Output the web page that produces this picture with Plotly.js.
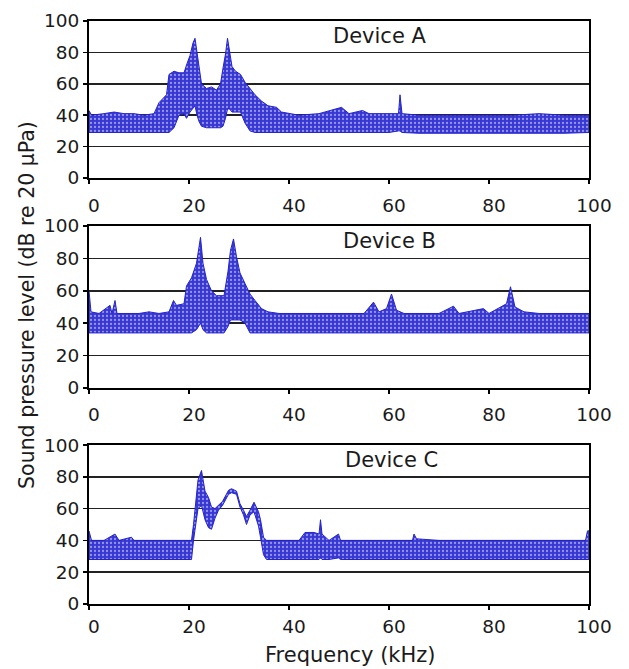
<!DOCTYPE html>
<html>
<head>
<meta charset="utf-8">
<script src="https://cdn.plot.ly/plotly-3.0.1.min.js"></script>
<style>html,body{margin:0;padding:0;background:#fff;}#chart{width:629px;height:669px;}</style>
</head>
<body>
<div id="chart"></div>
<script>
// ---- Data ----
const deviceNames = ['Device A', 'Device B', 'Device C'];
const xTickVals = [0, 20, 40, 60, 80, 100];
const yTickVals = [0, 20, 40, 60, 80, 100];

// Device A: frequency (kHz), upper and lower envelope of the spectrum (dB)
const freqA  = [0, 0.5, 3, 5, 7, 9, 11, 13, 14, 15.5, 16, 17, 18, 19, 19.5, 20.2, 20.8, 21.2, 21.6, 22, 22.5, 23.5, 24.5, 25.5, 26.3, 26.8, 27.3, 27.7, 28.1, 28.6, 29.3, 30.3, 31.2, 32.2, 33.2, 34.5, 35.8, 37.5, 38.5, 42, 46, 50.5, 52, 54.7, 56, 60, 61.9, 62.2, 62.6, 66, 70, 75, 80, 85, 90, 95, 100];
const upperA = [43, 40, 41, 42, 41, 41, 40, 41, 48, 53, 66, 68, 67, 67, 72, 78, 86, 89, 80, 70, 60, 57, 58, 56, 60, 70, 79, 89, 80, 71, 68, 66, 61, 57, 53, 49, 46, 45, 42, 40, 41, 45, 41, 43, 41, 41, 41, 53, 41, 40, 40, 40, 40, 40, 41, 40, 40];
const lowerA = [29, 29, 29, 29, 29, 29, 29, 29, 29, 29, 29, 32, 40, 41, 38, 42, 44, 46, 40, 36, 33, 32, 32, 32, 32, 33, 38, 44, 44, 42, 42, 42, 35, 30, 29, 29, 29, 29, 29, 29, 29, 29, 29, 29, 29, 29, 30, 30, 29, 28.5, 28.5, 28.5, 28.5, 28.5, 28.5, 28.5, 29];

// Device B
const freqB  = [0, 0.4, 2, 4.2, 4.6, 5.2, 5.6, 8, 10, 12, 14, 16, 16.9, 17.5, 19, 19.5, 20.5, 21.5, 22.3, 22.8, 23.5, 24.5, 25.5, 27, 27.8, 28.3, 28.9, 29.5, 30.2, 31.2, 32.2, 33.2, 34.5, 35.8, 38, 45, 50, 55, 56.9, 58, 59.5, 60.5, 61.5, 63, 70, 72.9, 74, 78.9, 80, 83.5, 84.3, 85.2, 87, 90, 95, 100];
const upperB = [60, 47, 46, 51, 46, 54, 46, 46, 46, 47, 46, 47, 54, 51, 52, 63, 68, 77, 93, 77, 67, 60, 57, 57, 72, 85, 92, 81, 71, 64.5, 58, 54, 49, 47, 46, 46, 46, 46, 53, 47, 49, 58, 48, 46, 46, 50.5, 46, 49, 46, 52, 62.5, 50, 47, 46, 46, 46];
const lowerB = [34, 34, 34, 34, 34, 34, 34, 34, 34, 34, 34, 34, 34, 34, 34, 34, 34, 36, 40, 36, 34, 34, 34, 34, 38, 42, 42, 42, 42, 40, 34, 34, 34, 34, 34, 34, 34, 34, 34, 34, 34, 34, 34, 34, 34, 34, 34, 34, 34, 34, 34, 34, 34, 34, 34, 34];

// Device C
const freqC  = [0, 0.5, 3, 5.2, 6, 8.5, 9, 12, 15, 18, 20.5, 20.9, 21.3, 21.8, 22.5, 23.2, 23.9, 24.5, 25.2, 25.9, 26.7, 27.9, 28.5, 29.5, 30.2, 30.9, 31.5, 32.2, 33, 33.9, 34.3, 34.9, 35.5, 38, 42, 43.2, 45, 46, 46.3, 46.6, 48, 49.9, 50.3, 55, 60, 64.7, 65, 65.5, 70, 75, 80, 85, 90, 95, 99.3, 99.7, 100];
const upperC = [46, 40, 40, 44, 40, 42, 40, 40, 40, 40, 40, 50, 62, 78, 84, 71, 67, 61, 60, 62, 64.5, 71.5, 72.5, 71, 63, 59, 55, 59, 64, 58, 53, 42, 40, 40, 40, 45, 45, 44, 53, 44, 40, 44, 40, 40, 40, 40, 44, 41, 40, 40, 40, 40, 40, 40, 40, 46, 46];
const lowerC = [28, 28, 28, 28, 28, 28, 28, 28, 28, 28, 28, 40, 50, 60, 62, 53, 48, 47, 54, 59, 62, 69, 70, 69, 61, 56, 50, 56, 58, 49, 42, 31, 28, 28, 28, 28, 28, 28, 29, 28, 28, 29, 28, 28, 28, 28, 28, 28, 28, 28, 28, 28, 28, 28, 28, 28, 28];

const series = [
  {freq: freqA, upper: upperA, lower: lowerA},
  {freq: freqB, upper: upperB, lower: lowerB},
  {freq: freqC, upper: upperC, lower: lowerC}
];

// ---- Styling ----
const BLUE_LINE = 'rgb(35,35,205)';
const BLUE_FILL = 'rgb(55,55,212)';
const FONT = 'DejaVu Sans, Arial, sans-serif';
const TXT = '#1a1a1a';
const domains = [[0.7307, 1.0], [0.3705, 0.6484], [0.0, 0.2727]];
const titlePos = [[0.58, 0.904], [0.601, 0.907], [0.604, 0.906]];
const xStandoff = [6, 5, 1];

const traces = [];
series.forEach((s, i) => {
  const n = i === 0 ? '' : String(i + 1);
  traces.push({
    x: s.freq, y: s.lower, xaxis: 'x' + n, yaxis: 'y' + n,
    type: 'scatter', mode: 'lines', line: {color: BLUE_LINE, width: 1},
    hoverinfo: 'skip', showlegend: false
  });
  traces.push({
    x: s.freq, y: s.upper, xaxis: 'x' + n, yaxis: 'y' + n,
    type: 'scatter', mode: 'lines', line: {color: BLUE_LINE, width: 1},
    fill: 'tonexty', fillcolor: BLUE_FILL,
    fillpattern: {shape: '.', bgcolor: BLUE_FILL, fgcolor: 'rgb(150,150,240)', size: 4, solidity: 0.25},
    hoverinfo: 'skip', showlegend: false
  });
});

const layout = {
  width: 629, height: 669,
  margin: {l: 89, r: 40, t: 21, b: 65},
  paper_bgcolor: '#fff', plot_bgcolor: '#fff',
  font: {family: FONT, size: 19, color: TXT},
  showlegend: false,
  annotations: []
};

series.forEach((s, i) => {
  const n = i === 0 ? '' : String(i + 1);
  layout['xaxis' + n] = {
    domain: [0, 1], range: [0, 100], anchor: 'y' + n,
    tickvals: xTickVals, ticktext: xTickVals.map(String),
    ticks: 'outside', ticklen: 4, tickcolor: '#000', tickwidth: 1.5,
    showline: true, linecolor: '#000', linewidth: 2, mirror: true,
    showgrid: false, zeroline: false,
    ticklabelshift: 5, ticklabelstandoff: xStandoff[i],
    tickfont: {family: FONT, size: 18.5, color: TXT}
  };
  layout['yaxis' + n] = {
    domain: domains[i], range: [0, 100], anchor: 'x' + n,
    tickvals: yTickVals, ticktext: yTickVals.map(String),
    ticks: 'outside', ticklen: 4, tickcolor: '#000', tickwidth: 1.5,
    showline: true, linecolor: '#000', linewidth: 2, mirror: true,
    showgrid: true, gridcolor: '#222', gridwidth: 1.5, zeroline: false,
    tickfont: {family: FONT, size: 18.5, color: TXT}
  };
  layout.annotations.push({
    text: deviceNames[i], xref: 'x' + n + ' domain', yref: 'y' + n + ' domain',
    x: titlePos[i][0], y: titlePos[i][1], xanchor: 'center', yanchor: 'middle',
    showarrow: false, font: {family: FONT, size: 21, color: TXT}
  });
});

layout.annotations.push({
  text: 'Sound pressure level (dB re 20 µPa)', xref: 'paper', yref: 'paper',
  x: -0.124, y: 0.513, xanchor: 'center', yanchor: 'middle', textangle: -90,
  showarrow: false, font: {family: FONT, size: 20.5, color: TXT}
});
layout.annotations.push({
  text: 'Frequency (kHz)', xref: 'paper', yref: 'paper',
  x: 0.522, y: -0.0875, xanchor: 'center', yanchor: 'middle',
  showarrow: false, font: {family: FONT, size: 21, color: TXT}
});

Plotly.newPlot('chart', traces, layout, {displayModeBar: false, staticPlot: true});
</script>
</body>
</html>
